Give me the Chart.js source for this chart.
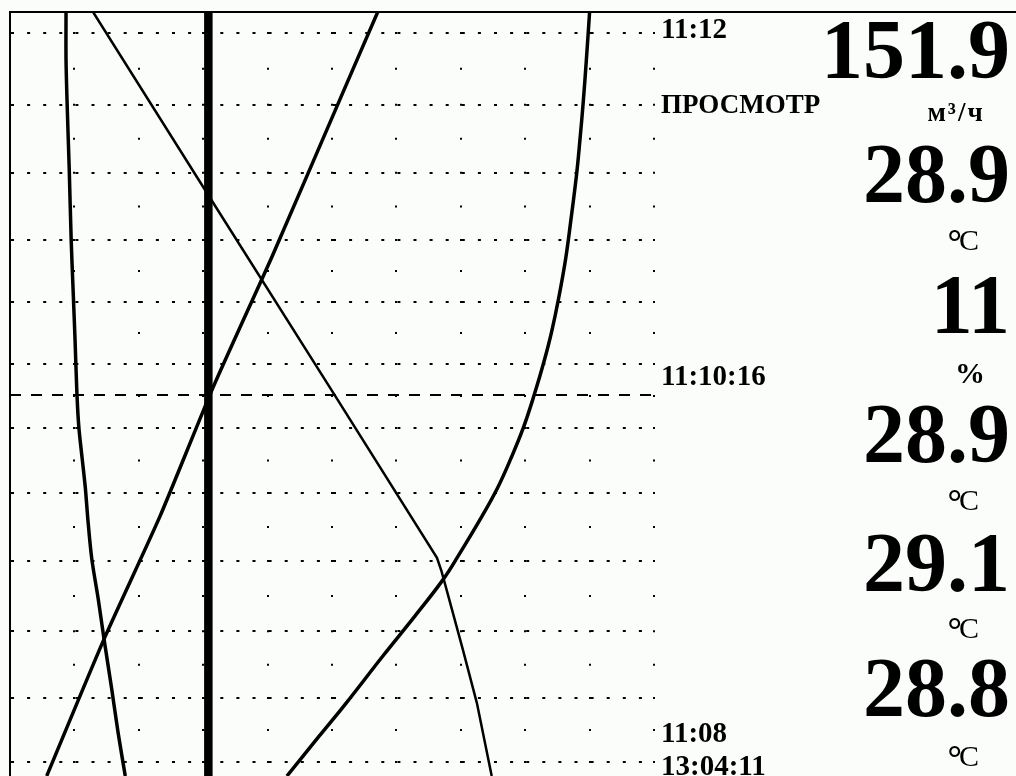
<!DOCTYPE html>
<html><head><meta charset="utf-8">
<script src="https://cdn.jsdelivr.net/npm/chart.js@4"></script>
<style>html,body{margin:0;padding:0;background:#fbfdfb;}canvas{display:block;}</style>
</head><body>
<canvas id="c" width="1016" height="776"></canvas>
<script>
// x: scale divisions (0..10), y: seconds after 11:08:00
const thickLine = [[3.08, 246.3], [3.08, 15.8]];
const curveLeft = [[0.87,246.3],[0.87,231.9],[0.89,216.8],[0.92,198.7],[0.95,177.5],[0.98,162.4],[1.01,147.4],[1.04,130.8],[1.07,120.8],[1.12,111.7],[1.17,102.7],[1.21,93.0],[1.27,81.3],[1.37,69.2],[1.46,57.1],[1.58,42.0],[1.68,28.7],[1.79,15.8]];
const curveFalling = [[1.29,246.3],[3.00,193.5],[5.02,131.4],[6.63,81.6],[6.70,77.6],[6.76,73.4],[7.03,54.1],[7.25,37.8],[7.48,15.8]];
const curveRising = [[5.71,246.3],[5.12,219.8],[4.08,173.0],[3.15,132.9],[2.33,94.2],[1.46,57.1],[0.57,15.8]];
const curveRight = [[9.00,246.3],[8.95,231.9],[8.90,218.9],[8.85,207.7],[8.80,197.7],[8.71,183.6],[8.63,172.1],[8.52,160.0],[8.41,149.8],[8.29,140.7],[8.14,130.8],[7.97,120.8],[7.78,111.7],[7.57,102.7],[7.33,94.2],[6.96,82.2],[6.73,75.2],[6.29,64.1],[5.79,52.0],[5.22,37.8],[4.80,27.8],[4.30,15.8]];
const cursorTime = 130.75;
const cursorSpan = [0, 10];
const timeTicks = [240, 218.3, 197.8, 177.5, 158.8, 140.1, 120.8, 101.2, 80.7, 59.5, 39.3, 20];
const divisionTicks = [1,2,3,4,5,6,7,8,9,10];
const timeLabels = ['11:12','ПРОСМОТР','11:10:16','11:08','13:04:11'];
const timeLabelAt = [238.5,215.9,133.8,26.0,16.1];
const readings = ['151.9','28.9','11','28.9','29.1','28.8'];
const units = ['м³/ч','°C','%','°C','°C','°C'];

const toPts = a => a.map(p => ({x:p[0], y:p[1]}));

// dotted vertical grid: one dot on every grid row and half-row
function columnDash(c) {
  const ys = c.chart.scales.y, area = c.chart.chartArea;
  if (!ys || !area || !ys.height) return [2, 31];
  const px = timeTicks.map(v => ys.getPixelForValue(v)).sort((a, b) => a - b);
  const rows = [];
  px.forEach((p, i) => { rows.push(p); if (i < px.length - 1) rows.push((p + px[i + 1]) / 2); });
  const arr = [0];
  let pos = area.top + 1;
  rows.forEach(r => { arr.push(Math.max(0, r - 1 - pos)); arr.push(2); pos = r + 1; });
  arr.push(3000);
  return arr;
}

const panel = {
  id: 'panel',
  afterDraw(chart) {
    const ctx = chart.ctx, ys = chart.scales.y, area = chart.chartArea;
    ctx.save();
    ctx.fillStyle = '#000'; ctx.strokeStyle = '#000';
    ctx.lineWidth = 2;
    ctx.beginPath(); ctx.moveTo(area.right, 12); ctx.lineTo(chart.width, 12); ctx.stroke();
    ctx.textBaseline = 'alphabetic';
    ctx.textAlign = 'left';
    timeLabels.forEach((t, i) => {
      ctx.font = (i === 1 ? 'bold 27px' : 'bold 29px') + ' "Liberation Serif"';
      ctx.fillText(t, area.right + 7, ys.getPixelForValue(timeLabelAt[i]));
    });
    const readBase = [78, 202, 333, 462, 591, 716];
    const unitBase = [121, 250, 383, 510, 638, 766];
    ctx.textAlign = 'right';
    ctx.font = 'bold 84px "Liberation Serif"';
    readings.forEach((r, i) => ctx.fillText(r, 1010, readBase[i]));
    units.forEach((u, i) => {
      const b = unitBase[i];
      if (u.startsWith('°')) {
        ctx.textAlign = 'right'; ctx.font = 'bold 36px "Liberation Serif"';
        ctx.fillText('°', 962, b + 4);
        ctx.textAlign = 'left'; ctx.font = '30px "Liberation Serif"';
        ctx.fillText(u.slice(1), 959, b);
      } else if (u === '%') {
        ctx.textAlign = 'center'; ctx.font = 'bold 30px "Liberation Serif"';
        ctx.fillText(u, 970, b);
      } else {
        ctx.textAlign = 'center'; ctx.font = 'bold 27px "Liberation Serif"';
        ctx.letterSpacing = '2px';
        ctx.fillText(u, 956, b);
        ctx.letterSpacing = '0px';
      }
    });
    ctx.restore();
  }
};

const lineDs = (data, w, extra) => Object.assign({data: toPts(data), showLine: true, borderColor: '#000', borderWidth: w, pointRadius: 0, tension: 0, clip: 0, fill: false}, extra || {});

new Chart(document.getElementById('c'), {
  type: 'scatter',
  data: {
    datasets: [
      lineDs([[cursorSpan[0], cursorTime], [cursorSpan[1], cursorTime]], 2, {borderDash: [11, 10]}),
      lineDs(thickLine, 8.5),
      lineDs(curveLeft, 3.5, {tension: 0.3}),
      lineDs(curveFalling, 2.5),
      lineDs(curveRising, 3.5, {tension: 0.2}),
      lineDs(curveRight, 3.5, {tension: 0.4})
    ]
  },
  options: {
    responsive: false,
    animation: false,
    events: [],
    layout: {padding: {left: 10, top: 12, right: 362, bottom: 0}},
    plugins: {legend: {display: false}, tooltip: {enabled: false}},
    scales: {
      x: {
        type: 'linear', position: 'top', min: 0, max: 10,
        afterBuildTicks: s => { s.ticks = divisionTicks.map(v => ({value: v})); },
        afterFit: s => { s.height = 0; },
        ticks: {display: false},
        grid: {color: '#000', lineWidth: 2, drawTicks: false},
        border: {display: true, color: '#000', width: 2, dash: columnDash, dashOffset: 0}
      },
      y: {
        type: 'linear', position: 'left', min: 15.8, max: 246.3,
        afterBuildTicks: s => { s.ticks = timeTicks.map(v => ({value: v})); },
        afterFit: s => { s.width = 0; },
        ticks: {display: false},
        grid: {color: '#000', lineWidth: 2, drawTicks: false},
        border: {display: true, color: '#000', width: 2, dash: [3, 13.1]}
      }
    }
  },
  plugins: [panel]
});
</script>
</body></html>
